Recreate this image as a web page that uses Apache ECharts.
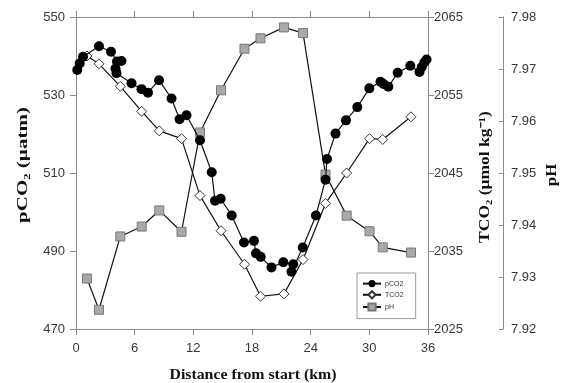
<!DOCTYPE html>
<html>
<head>
<meta charset="utf-8">
<script src="https://cdn.jsdelivr.net/npm/echarts@6/dist/echarts.min.js"></script>
<style>
  html, body { margin: 0; padding: 0; background: #fff; }
  #chart { width: 561px; height: 383px; }
</style>
</head>
<body>
<div id="chart"></div>
<script>
// Underway pCO2 along the transect (km from start, µatm)
const pco2Dist = [0.13, 0.38, 0.72, 2.35, 3.58, 4.19, 4.65, 4.04, 4.14, 5.68, 6.70, 7.36, 8.49, 9.77,
  10.59, 11.30, 12.68, 13.88, 14.22, 14.80, 15.92, 17.18, 18.20, 18.41, 18.89, 19.99, 21.20, 22.22,
  22.04, 23.19, 24.54, 25.52, 25.67, 26.54, 27.61, 28.77, 30.00, 31.14, 31.45, 31.94, 32.90, 34.19,
  35.13, 35.36, 35.64, 35.85];
const pco2Values = [536.4, 538.1, 539.8, 542.5, 541.1, 538.6, 538.7, 536.8, 535.6, 533.0, 531.5, 530.6,
  533.8, 529.1, 523.8, 524.8, 518.4, 510.2, 502.9, 503.4, 499.1, 492.2, 492.6, 489.4, 488.5, 485.8,
  487.1, 486.6, 484.7, 490.9, 499.1, 508.3, 513.6, 520.1, 523.5, 526.9, 531.7, 533.4, 532.8, 532.1,
  535.7, 537.5, 535.9, 537.2, 538.4, 539.1];

// Discrete stations where TCO2 and pH were sampled (km from start)
const stationDist = [1.12, 2.35, 4.53, 6.72, 8.52, 10.79, 12.68, 14.83, 17.23, 18.87, 21.27, 23.22,
  25.52, 27.68, 30.02, 31.37, 34.26];
const tco2Values = [2060.0, 2059.0, 2056.1, 2052.9, 2050.4, 2049.4, 2042.1, 2037.6, 2033.3, 2029.2,
  2029.5, 2033.9, 2041.1, 2045.0, 2049.4, 2049.3, 2052.2];
const phValues = [7.9297, 7.9237, 7.9378, 7.9397, 7.9428, 7.9387, 7.9578, 7.9659, 7.9739, 7.9759,
  7.9780, 7.9769, 7.9497, 7.9418, 7.9388, 7.9357, 7.9347];

// Axis tick labels
const distTicks = [0, 6, 12, 18, 24, 30, 36];
const pco2Ticks = [470, 490, 510, 530, 550];
const tco2Ticks = [2025, 2035, 2045, 2055, 2065];
const phTicks = [7.92, 7.93, 7.94, 7.95, 7.96, 7.97, 7.98];

const zip = (xs, ys) => xs.map((x, i) => [x, ys[i]]);
const range = t => ({ min: t[0], max: t[t.length - 1], interval: +(t[1] - t[0]).toFixed(6) });

const axisGray = '#8a8a8a';
const labelFont = { fontFamily: 'Liberation Sans', fontSize: 13, color: '#383838' };
const serifBold = 'bold 14px "Liberation Serif"';

function baseAxis(extra) {
  return Object.assign({
    type: 'value',
    splitLine: { show: false },
    axisLine: { show: true, onZero: false, lineStyle: { color: axisGray, width: 1 } },
    axisTick: { show: true, inside: false, length: 6, lineStyle: { color: axisGray } },
    axisLabel: Object.assign({ margin: 8 }, labelFont)
  }, extra);
}

function titleText(text, x, y, rot, sx) {
  return {
    type: 'text', x: x, y: y, rotation: rot, scaleX: sx, silent: true,
    style: {
      text: text, font: serifBold, fill: '#111',
      align: 'center', verticalAlign: 'middle',
      textAlign: 'center', textVerticalAlign: 'middle'
    }
  };
}

const chart = echarts.init(document.getElementById('chart'), null, { renderer: 'canvas' });

chart.setOption({
  animation: false,
  backgroundColor: '#fff',
  grid: { left: 76, right: 133, top: 17, bottom: 54, containLabel: false },
  xAxis: [
    baseAxis(Object.assign(range(distTicks), { position: 'bottom',
      axisLabel: Object.assign({ margin: 13, formatter: v => String(v) }, labelFont) })),
    baseAxis(Object.assign(range(distTicks), { position: 'top',
      axisLabel: { show: false } }))
  ],
  yAxis: [
    baseAxis(Object.assign(range(pco2Ticks), { position: 'left',
      axisLabel: Object.assign({ margin: 11, formatter: v => String(v) }, labelFont) })),
    baseAxis(Object.assign(range(tco2Ticks), { position: 'right',
      axisLabel: Object.assign({ margin: 6, formatter: v => String(v) }, labelFont) })),
    baseAxis(Object.assign(range(phTicks), { position: 'right', offset: 75,
      axisTick: { show: true, inside: true, length: 4, lineStyle: { color: axisGray } },
      axisLabel: Object.assign({ margin: 8, formatter: v => v.toFixed(2) }, labelFont) }))
  ],
  legend: {
    orient: 'vertical',
    left: 357, top: 273,
    padding: [7, 12, 7, 5],
    itemGap: 3,
    itemWidth: 18, itemHeight: 9,
    borderColor: '#999', borderWidth: 1, backgroundColor: '#fff',
    textStyle: { fontFamily: 'Liberation Sans', fontSize: 7, color: '#333', padding: [0, 0, 0, -1] },
    data: ['pCO2', 'TCO2', 'pH']
  },
  graphic: [
    titleText('pCO₂ (µatm)', 23, 165, Math.PI / 2, 1.5),
    titleText('TCO₂ (µmol kg⁻¹)', 485, 177, Math.PI / 2, 1.25),
    titleText('pH', 552, 175, Math.PI / 2, 1.2),
    titleText('Distance from start (km)', 253, 375, 0, 1.13)
  ],
  series: [
    {
      name: 'pH', type: 'line', xAxisIndex: 0, yAxisIndex: 2,
      data: zip(stationDist, phValues),
      symbol: 'rect', symbolSize: 9, showAllSymbol: true,
      lineStyle: { color: '#111', width: 1.2 },
      itemStyle: { color: '#a9a9a9', borderColor: '#777', borderWidth: 1 },
      z: 2
    },
    {
      name: 'TCO2', type: 'line', xAxisIndex: 0, yAxisIndex: 1,
      data: zip(stationDist, tco2Values),
      symbol: 'diamond', symbolSize: 10, showAllSymbol: true,
      lineStyle: { color: '#111', width: 1.2 },
      itemStyle: { color: '#fff', borderColor: '#333', borderWidth: 1 },
      z: 3
    },
    {
      name: 'pCO2', type: 'line', xAxisIndex: 0, yAxisIndex: 0,
      data: zip(pco2Dist, pco2Values),
      symbol: 'circle', symbolSize: 10, showAllSymbol: true,
      lineStyle: { color: '#111', width: 1.2 },
      itemStyle: { color: '#000', borderColor: '#000', borderWidth: 0 },
      z: 4
    }
  ]
});
</script>
</body>
</html>
